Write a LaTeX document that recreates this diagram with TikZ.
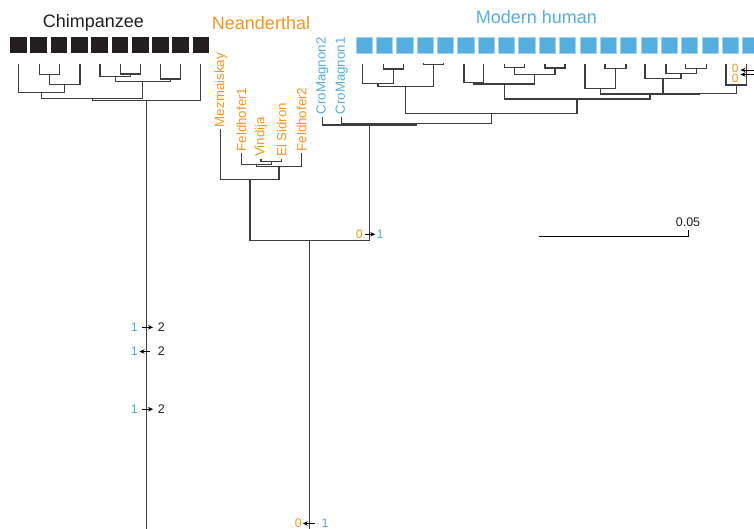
\documentclass[tikz,border=0pt]{standalone}
\usepackage{fontspec}
\setmainfont{Liberation Sans}
\usetikzlibrary{arrows.meta}
\definecolor{chimpk}{RGB}{35,31,32}
\definecolor{neaor}{RGB}{247,148,30}
\definecolor{modbl}{RGB}{84,174,224}
\definecolor{treeg}{RGB}{62,62,62}
\tikzset{
  tree/.style={draw=treeg, line width=1.3pt},
  csq/.style={fill=chimpk, draw=none, minimum width=16.7pt, minimum height=16.5pt, inner sep=0pt},
  msq/.style={fill=modbl, draw=modbl!55!white, line width=0.5pt, minimum width=16.2pt, minimum height=16.2pt, inner sep=0pt},
  ttl/.style={font=\fontsize{18}{20}\selectfont, inner sep=0pt, anchor=base},
  rlab/.style={font=\fontsize{13.3}{15}\selectfont, rotate=90, anchor=west, inner sep=0pt},
  num/.style={font=\fontsize{12.5}{14}\selectfont, inner sep=0pt},
  mut/.style={-{Stealth[length=5pt,width=4.5pt]}, line width=0.8pt, black},
}
\begin{document}
\begin{tikzpicture}[x=1pt,y=-1pt]
\useasboundingbox (0,0) rectangle (754,529);

% titles
\node[ttl, text=chimpk] (tchimp) at (93.3,28) {Chimpanzee};
\node[ttl, text=neaor] (tnea) at (261,29.3) {Neanderthal};
\node[ttl, text=modbl] (tmod) at (536.5,23.3) {Modern human};

% squares
\foreach \i in {1,...,10} {
  \node[csq] (cs\i) at ({18.35+20.3*(\i-1)},45.2) {};
}
\foreach \i in {1,...,20} {
  \node[msq] (ms\i) at ({364+20.35*(\i-1)},45) {};
}

% ---------------- chimpanzee tree ----------------
\coordinate (c1) at (18.3,64.5);
\coordinate (c2) at (39.3,64.5);
\coordinate (c3) at (59.3,64.5);
\coordinate (c4) at (80,64.5);
\coordinate (c5) at (100,64.5);
\coordinate (c6) at (120.7,64.5);
\coordinate (c7) at (140.3,64.5);
\coordinate (c8) at (160.7,64.5);
\coordinate (c9) at (180.3,64.5);
\coordinate (c10) at (200.5,64.5);
\coordinate (cA) at (49.3,74.3);
\coordinate (cB) at (64.7,84.3);
\coordinate (cC) at (41.5,92.3);
\coordinate (cD) at (130.5,74);
\coordinate (cE) at (115.2,76.7);
\coordinate (cF) at (170.5,79);
\coordinate (cG) at (142.8,81.7);
\coordinate (cH) at (92.2,98.5);
\coordinate (croot) at (146.5,100.7);
\coordinate (cbot) at (146.5,529);
\draw[tree] (c2) |- (cA); \draw[tree] (c3) |- (cA);
\draw[tree] (cA) |- (cB); \draw[tree] (c4) |- (cB);
\draw[tree] (c1) |- (cC); \draw[tree] (cB) |- (cC);
\draw[tree] (c6) |- (cD); \draw[tree] (c7) |- (cD);
\draw[tree] (c5) |- (cE); \draw[tree] (cD) |- (cE);
\draw[tree] (c8) |- (cF); \draw[tree] (c9) |- (cF);
\draw[tree] (cE) |- (cG); \draw[tree] (cF) |- (cG);
\draw[tree] (cC) |- (cH); \draw[tree] (cG) |- (cH);
\draw[tree] (cH) |- (croot); \draw[tree] (c10) |- (croot);
\draw[tree] (croot) -- (cbot);

% ---------------- modern human tree ----------------
\coordinate (ml1) at (362.7,64.3);
\coordinate (ml2) at (383.3,64.3);
\coordinate (ml3) at (403.3,64.3);
\coordinate (ml4) at (423.3,63.5);
\coordinate (ml5) at (443.3,63.5);
\coordinate (ml6) at (464,64.3);
\coordinate (ml7) at (483.3,64.3);
\coordinate (ml8) at (504.3,64.3);
\coordinate (ml9) at (524.3,64.3);
\coordinate (ml10) at (545,64.3);
\coordinate (ml11) at (565,64.3);
\coordinate (ml12) at (585,64.3);
\coordinate (ml13) at (605,64.3);
\coordinate (ml14) at (626,64.3);
\coordinate (ml15) at (645,64.3);
\coordinate (ml16) at (666,64.3);
\coordinate (ml17) at (685.7,64.3);
\coordinate (ml18) at (706.7,64.3);
\coordinate (ml19) at (726,64.3);
\coordinate (ml20) at (746.7,64.3);
\coordinate (mA) at (393.3,69);
\coordinate (mB) at (378,83.3);
\coordinate (mC) at (433.3,64.5);
\coordinate (mD) at (405.7,86.7);
\coordinate (mE) at (473.7,82.3);
\coordinate (mF) at (514.3,67.7);
\coordinate (mG) at (555,68);
\coordinate (mH) at (534.7,74.3);
\coordinate (mI) at (504.2,84);
\coordinate (mJ) at (615.5,68.3);
\coordinate (mK) at (600.3,88.3);
\coordinate (mL) at (696.2,68.3);
\coordinate (mM) at (681.1,73.3);
\coordinate (mN) at (663,78.3);
\coordinate (mO) at (736.3,85);
\coordinate (mP) at (699.7,93.3);
\coordinate (mQ) at (650,94);
\coordinate (mR) at (577.1,99);
\coordinate (mS) at (491.4,113.3);
\coordinate (cm1) at (341.7,116.7);
\coordinate (cm2) at (322.3,116.7);
\coordinate (mT) at (416.5,123.3);
\coordinate (mU) at (369.4,125);
\draw[tree] (ml2) |- (mA); \draw[tree] (ml3) |- (mA);
\draw[tree] (ml1) |- (mB); \draw[tree] (mA) |- (mB);
\draw[tree] (ml4) |- (mC); \draw[tree] (ml5) |- (mC);
\draw[tree] (mB) |- (mD); \draw[tree] (mC) |- (mD);
\draw[tree] (ml6) |- (mE); \draw[tree] (ml7) |- (mE);
\draw[tree] (ml8) |- (mF); \draw[tree] (ml9) |- (mF);
\draw[tree] (ml10) |- (mG); \draw[tree] (ml11) |- (mG);
\draw[tree] (mF) |- (mH); \draw[tree] (mG) |- (mH);
\draw[tree] (mE) |- (mI); \draw[tree] (mH) |- (mI);
\draw[tree] (ml13) |- (mJ); \draw[tree] (ml14) |- (mJ);
\draw[tree] (ml12) |- (mK); \draw[tree] (mJ) |- (mK);
\draw[tree] (ml17) |- (mL); \draw[tree] (ml18) |- (mL);
\draw[tree] (ml16) |- (mM); \draw[tree] (mL) |- (mM);
\draw[tree] (ml15) |- (mN); \draw[tree] (mM) |- (mN);
\draw[tree] (ml19) |- (mO); \draw[tree] (ml20) |- (mO);
\draw[tree] (mN) |- (mP); \draw[tree] (mO) |- (mP);
\draw[tree] (mK) |- (mQ); \draw[tree] (mP) |- (mQ);
\draw[tree] (mI) |- (mR); \draw[tree] (mQ) |- (mR);
\draw[tree] (mD) |- (mS); \draw[tree] (mR) |- (mS);
\draw[tree] (cm1) |- (mT); \draw[tree] (mS) |- (mT);
\draw[tree] (cm2) |- (mU); \draw[tree] (mT) |- (mU);

% Cro-Magnon labels
\node[rlab, text=modbl] (lcm2) at (322.3,114.5) {CroMagnon2};
\node[rlab, text=modbl] (lcm1) at (341.7,114.5) {CroMagnon1};

% ---------------- Neanderthal tree ----------------
\coordinate (nmez) at (220.7,129.3);
\coordinate (nf1) at (241.3,153.3);
\coordinate (nvin) at (261,159.3);
\coordinate (nels) at (281.7,159.3);
\coordinate (nf2) at (301.7,153.3);
\coordinate (nA) at (271.35,161.7);
\coordinate (nB) at (256.3,164.3);
\coordinate (nC) at (279,166.7);
\coordinate (nD) at (249.9,179.3);
\coordinate (hroot) at (309.65,240.5);
\coordinate (hbot) at (309.65,529);
\draw[tree] (nvin) |- (nA); \draw[tree] (nels) |- (nA);
\draw[tree] (nf1) |- (nB); \draw[tree] (nA) |- (nB);
\draw[tree] (nB) |- (nC); \draw[tree] (nf2) |- (nC);
\draw[tree] (nmez) |- (nD); \draw[tree] (nC) |- (nD);
\draw[tree] (nD) |- (hroot); \draw[tree] (mU) |- (hroot);
\draw[tree] (hroot) -- (hbot);

\node[rlab, text=neaor] (lmez) at (220.7,127.3) {Mezmaiskay};
\node[rlab, text=neaor] (lf1) at (241.3,151.5) {Feldhofer1};
\node[rlab, text=neaor] (lvin) at (261,157) {Vindija};
\node[rlab, text=neaor] (lels) at (281.7,157) {El Sidron};
\node[rlab, text=neaor] (lf2) at (301.7,151.5) {Feldhofer2};

% ---------------- mutation annotations ----------------
\node[num, text=modbl] (a1) at (134.3,327.3) {1};
\node[num, text=chimpk] (b1) at (161.3,327.3) {2};
\draw[mut, shorten <=3.9pt, shorten >=4.5pt] (a1) -- (b1);
\node[num, text=modbl] (a2) at (134.3,351.5) {1};
\node[num, text=chimpk] (b2) at (161.3,351.5) {2};
\draw[mut, shorten <=7.8pt, shorten >=1.5pt] (b2) -- (a2);
\node[num, text=modbl] (a3) at (134.3,409.2) {1};
\node[num, text=chimpk] (b3) at (161.3,409.2) {2};
\draw[mut, shorten <=3.9pt, shorten >=4.5pt] (a3) -- (b3);

\node[num, text=neaor] (z1) at (359.3,234.3) {0};
\node[num, text=modbl] (o1) at (380,234.3) {1};
\draw[mut, shorten <=2.2pt, shorten >=1pt] (z1) -- (o1);

\node[num, text=neaor] (z2) at (298.3,523.5) {0};
\node[num, text=modbl] (o2) at (325,523.5) {1};
\draw[mut, shorten <=6.5pt, shorten >=0.9pt] (o2) -- (z2);

\node[num, text=neaor, font=\fontsize{12}{13}\selectfont] (z3) at (735.3,68.2) {0};
\node[num, text=neaor, font=\fontsize{12}{13}\selectfont] (z4) at (735.3,78.8) {0};
\coordinate (e3) at (757,70);
\coordinate (t3) at (740.5,70);
\coordinate (e4) at (757,74.5);
\coordinate (t4) at (740.5,74.5);
\draw[mut] (e3) -- (t3);
\draw[mut] (e4) -- (t4);

% ---------------- scale bar ----------------
\coordinate (sb0) at (539.3,236);
\coordinate (sb1) at (688.3,236);
\coordinate (sb2) at (688.3,230.5);
\draw[black, line width=0.9pt] (sb0) -- (sb1) -- (sb2);
\node[num, text=chimpk, anchor=base] (sbl) at (688,226.5) {0.05};
\end{tikzpicture}
\end{document}
